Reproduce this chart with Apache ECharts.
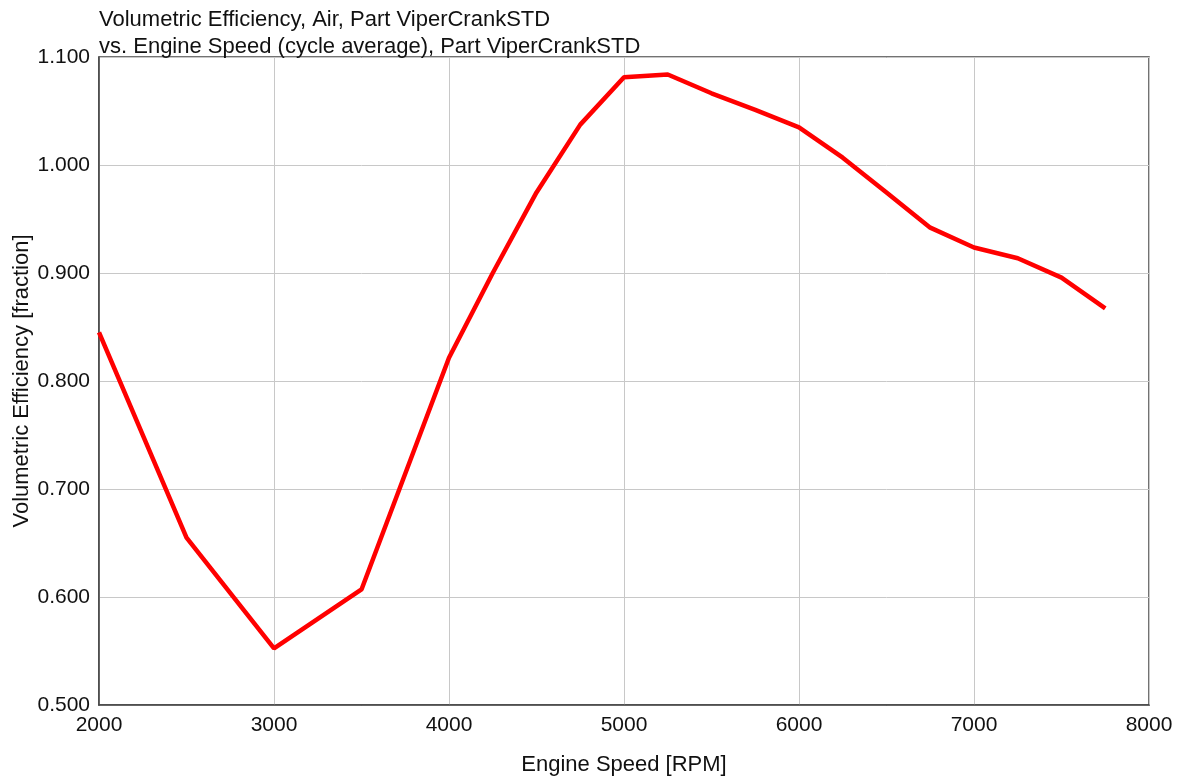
<!DOCTYPE html>
<html>
<head>
<meta charset="utf-8">
<script src="https://cdn.jsdelivr.net/npm/echarts@6/dist/echarts.min.js"></script>
<style>
html,body{margin:0;padding:0;background:#fff;}
#chart{width:1180px;height:777px;}
</style>
</head>
<body>
<div id="chart"></div>
<script>
const titleLines = [
  'Volumetric Efficiency, Air, Part ViperCrankSTD',
  'vs. Engine Speed (cycle average), Part ViperCrankSTD'
];
const xName = 'Engine Speed [RPM]';
const yName = 'Volumetric Efficiency [fraction]';
const engineSpeed = [2000, 2500, 3000, 3500, 4000, 4250, 4500, 4750, 5000, 5250, 5500, 5750, 6000, 6250, 6500, 6750, 7000, 7250, 7500, 7750];
const volEff =      [0.845, 0.655, 0.5525, 0.607, 0.8215, 0.900, 0.9746, 1.0374, 1.0813, 1.0838, 1.0664, 1.051, 1.0349, 1.0068, 0.9746, 0.942, 0.9236, 0.9137, 0.8957, 0.8673];

const FONT = '"Liberation Sans", Arial, sans-serif';
const TXT = '#111';
const chart = echarts.init(document.getElementById('chart'), null, {renderer: 'canvas'});
chart.setOption({
  backgroundColor: '#fff',
  animation: false,
  title: {
    text: titleLines.join('\n'),
    left: 99,
    top: 6,
    padding: 0,
    textStyle: {fontFamily: FONT, fontSize: 22, fontWeight: 'normal', color: TXT, lineHeight: 27}
  },
  grid: {left: 99, right: 31, top: 57, bottom: 72, show: true, borderColor: '#444', borderWidth: 1.5, containLabel: false, outerBoundsMode: 'none'},
  xAxis: {
    type: 'value',
    min: 2000, max: 8000, interval: 1000,
    name: xName,
    nameLocation: 'middle',
    nameGap: 49,
    nameMoveOverlap: false,
    nameTextStyle: {fontFamily: FONT, fontSize: 22, color: TXT},
    axisLine: {show: true, lineStyle: {color: '#444', width: 1.5}},
    axisTick: {show: false},
    axisLabel: {fontFamily: FONT, fontSize: 21, color: TXT, margin: 10, formatter: v => String(v)},
    splitLine: {show: true, lineStyle: {color: '#c8c8c8', width: 1}}
  },
  yAxis: {
    type: 'value',
    min: 0.5, max: 1.1, interval: 0.1,
    name: yName,
    nameLocation: 'middle',
    nameGap: 66,
    nameMoveOverlap: false,
    nameTextStyle: {fontFamily: FONT, fontSize: 22, color: TXT},
    axisLine: {show: true, lineStyle: {color: '#444', width: 1.5}},
    axisTick: {show: false},
    axisLabel: {fontFamily: FONT, fontSize: 21, color: TXT, margin: 9, formatter: v => v.toFixed(3)},
    splitLine: {show: true, lineStyle: {color: '#c8c8c8', width: 1}}
  },
  series: [{
    type: 'line',
    data: engineSpeed.map((x, i) => [x, volEff[i]]),
    showSymbol: false,
    symbol: 'none',
    lineStyle: {color: '#ff0000', width: 4.5},
    itemStyle: {color: '#ff0000'}
  }]
});
</script>
</body>
</html>
